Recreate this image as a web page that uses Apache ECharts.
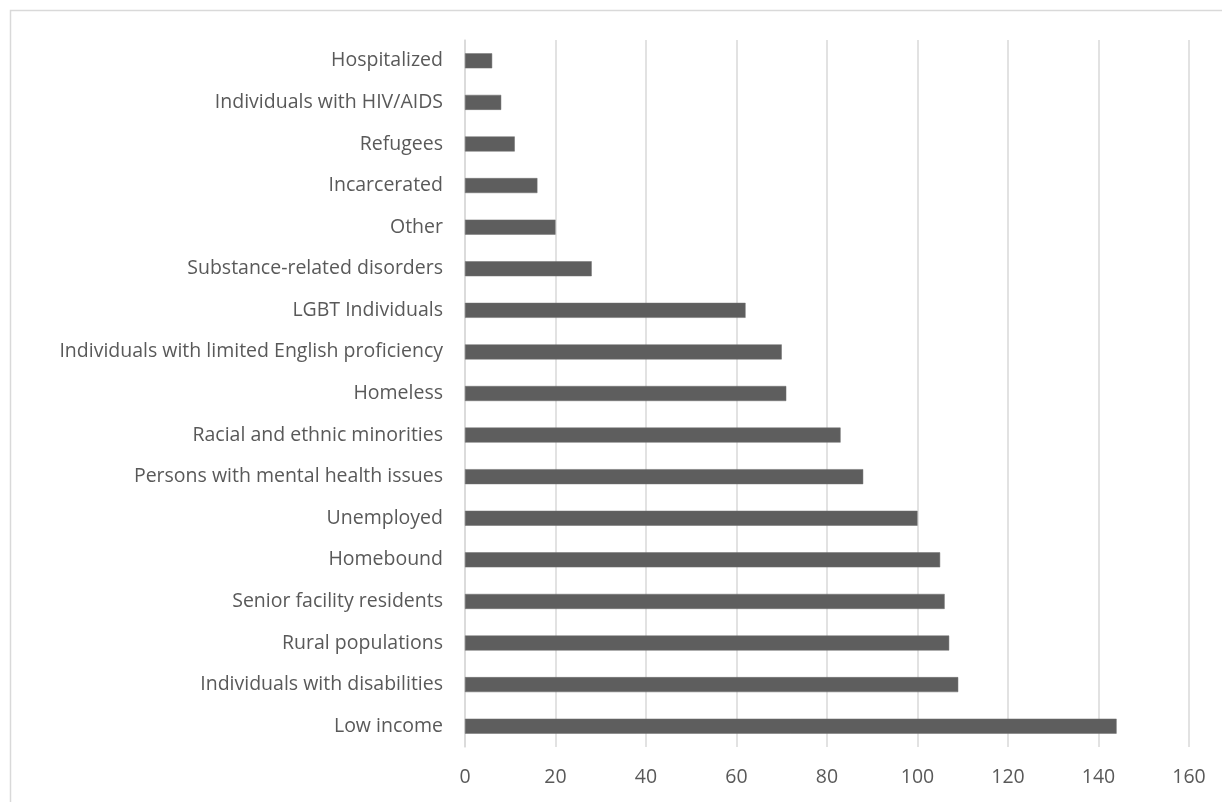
<!DOCTYPE html>
<html>
<head>
<meta charset="utf-8">
<script src="https://cdn.jsdelivr.net/npm/echarts@6/dist/echarts.min.js"></script>
<style>
  html, body { margin: 0; padding: 0; background: #fff; }
  #chart { width: 1222px; height: 802px; }
</style>
</head>
<body>
<div id="chart"></div>
<script>
// Populations served (bottom to top in the chart)
const categories = [
  'Low income',
  'Individuals with disabilities',
  'Rural populations',
  'Senior facility residents',
  'Homebound',
  'Unemployed',
  'Persons with mental health issues',
  'Racial and ethnic minorities',
  'Homeless',
  'Individuals with limited English proficiency',
  'LGBT Individuals',
  'Substance-related disorders',
  'Other',
  'Incarcerated',
  'Refugees',
  'Individuals with HIV/AIDS',
  'Hospitalized'
];
const counts = [144, 109, 107, 106, 105, 100, 88, 83, 71, 70, 62, 28, 20, 16, 11, 8, 6];
const axisMax = 160;
const axisStep = 20;

const chart = echarts.init(document.getElementById('chart'), null, { renderer: 'canvas' });
const font = "'Open Sans', 'Noto Sans', sans-serif";

chart.setOption({
  animation: false,
  backgroundColor: '#ffffff',
  graphic: [{
    type: 'rect',
    shape: { x: 10.5, y: 10.5, width: 1240, height: 820 },
    style: { fill: 'none', stroke: '#d9d9d9', lineWidth: 1.5 },
    silent: true
  }],
  grid: { left: 465, right: 33, top: 40, bottom: 55, containLabel: false },
  xAxis: {
    type: 'value',
    min: 0,
    max: axisMax,
    interval: axisStep,
    axisLine: { show: false },
    axisTick: { show: false },
    splitLine: { show: true, lineStyle: { color: '#d9d9d9', width: 1.5 } },
    axisLabel: { color: '#595959', fontFamily: font, fontSize: 19.5, margin: 20 }
  },
  yAxis: {
    type: 'category',
    data: categories,
    axisLine: { show: true, lineStyle: { color: '#d9d9d9', width: 1.5 } },
    axisTick: { show: false },
    axisLabel: { color: '#595959', fontFamily: font, fontSize: 19.5, margin: 22 }
  },
  series: [{
    type: 'bar',
    data: counts,
    barWidth: 15,
    itemStyle: { color: '#5e5e5e', borderColor: '#6e6e6e', borderWidth: 0.5 }
  }]
});
</script>
</body>
</html>
